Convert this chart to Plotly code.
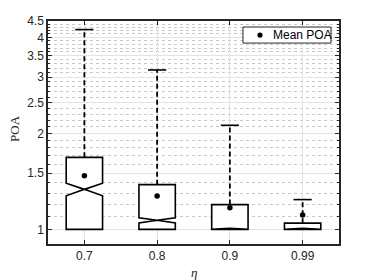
import numpy as np
import plotly.graph_objects as go

# ---- data ----
eta_labels = ["0.7", "0.8", "0.9", "0.99"]
q1 = [1.0, 1.0, 1.0, 1.0]
median = [1.335, 1.068, 1.0, 1.0]
q3 = [1.682, 1.381, 1.196, 1.046]
notch = [0.06, 0.02, 0.0, 0.0]
upper_whisker = [4.23, 3.16, 2.12, 1.24]
mean_poa = [1.473, 1.273, 1.17, 1.11]

y_tick_vals = [1, 1.5, 2, 2.5, 3, 3.5, 4, 4.5]
y_tick_text = ["1", "1.5", "2", "2.5", "3", "3.5", "4", "4.5"]
legend_label = "Mean POA"
x_title = "<i>η</i>"
y_title = "POA"

pos = list(range(len(eta_labels)))
box_w = 0.5
cap_half = box_w / 4

fig = go.Figure()

fig.add_trace(go.Box(
    x=pos, q1=q1, median=median, q3=q3,
    lowerfence=q1, upperfence=q3,
    notched=True, notchspan=notch, notchwidth=0.5,
    width=box_w, whiskerwidth=0,
    fillcolor="white", line=dict(color="black", width=1.6),
    boxpoints=False, showlegend=False, hoverinfo="skip",
))

# dashed whiskers
wx, wy = [], []
for p, a, b in zip(pos, q3, upper_whisker):
    wx += [p, p, None]
    wy += [a, b, None]
fig.add_trace(go.Scatter(x=wx, y=wy, mode="lines",
                         line=dict(color="black", width=1.8, dash="5px,3px"),
                         showlegend=False, hoverinfo="skip"))
# caps
cx, cy = [], []
for p, b in zip(pos, upper_whisker):
    cx += [p - cap_half, p + cap_half, None]
    cy += [b, b, None]
fig.add_trace(go.Scatter(x=cx, y=cy, mode="lines",
                         line=dict(color="black", width=1.6),
                         showlegend=False, hoverinfo="skip"))

# means
fig.add_trace(go.Scatter(x=pos, y=mean_poa, mode="markers", name=legend_label,
                         showlegend=False,
                         marker=dict(color="black", size=5.5, symbol="circle")))

# compact legend box (MATLAB style)
lx0, lx1, ly0, ly1 = 0.670, 0.9725, 0.901, 0.973
ly_mid = (ly0 + ly1) / 2
fig.add_shape(type="rect", xref="paper", yref="paper", x0=lx0, x1=lx1, y0=ly0, y1=ly1,
              fillcolor="white", line=dict(color="#262626", width=1), layer="above")
fig.add_shape(type="circle", xref="paper", yref="paper", xsizemode="pixel", ysizemode="pixel",
              xanchor=lx0 + 0.0585, yanchor=ly_mid, x0=-2.6, x1=2.6, y0=-2.6, y1=2.6,
              fillcolor="black", line=dict(color="black", width=0), layer="above")
fig.add_annotation(xref="paper", yref="paper", x=lx0 + 0.098, y=ly_mid,
                   xanchor="left", yanchor="middle", showarrow=False,
                   text=legend_label, font=dict(size=12, color="black"))

# axis titles
serif = "Liberation Serif, Times New Roman, serif"
fig.add_annotation(xref="paper", yref="paper", x=0.5, y=-0.128,
                   xanchor="center", yanchor="middle", showarrow=False,
                   text=x_title, font=dict(family=serif, size=13, color="#262626"))
fig.add_annotation(xref="paper", yref="paper", x=-0.117, y=0.52,
                   xanchor="center", yanchor="middle", showarrow=False, textangle=-90,
                   text=y_title, font=dict(family=serif, size=13, color="#262626"))

minor_vals = [round(v, 1) for v in np.arange(0.9, 4.5, 0.1)
              if round(v, 1) not in y_tick_vals]

fig.update_layout(
    width=374, height=280,
    margin=dict(l=48, r=35, t=21, b=36),
    paper_bgcolor="white", plot_bgcolor="white",
    font=dict(family="Liberation Sans, Arial, sans-serif", size=12, color="#262626"),
    showlegend=False,
)

fig.update_xaxes(
    range=[-0.5, 3.5], tickmode="array", tickvals=pos, ticktext=eta_labels,
    showgrid=True, gridcolor="#e3e3e3", gridwidth=1.2,
    ticks="inside", ticklen=4, tickcolor="#262626", tickwidth=1,
    showline=True, linecolor="#262626", linewidth=1.5, mirror="allticks",
    zeroline=False, automargin=False,
    tickfont=dict(size=12),
)

fig.update_yaxes(
    type="log", range=[np.log10(0.9), np.log10(4.5)],
    tickmode="array", tickvals=y_tick_vals, ticktext=y_tick_text,
    showgrid=True, gridcolor="#e3e3e3", gridwidth=1.2,
    ticks="inside", ticklen=4, tickcolor="#262626", tickwidth=1,
    showline=True, linecolor="#262626", linewidth=1.5, mirror="allticks",
    zeroline=False, automargin=False,
    minor=dict(tickmode="array", tickvals=minor_vals, ticks="inside", ticklen=2,
               tickcolor="#262626", showgrid=True, gridcolor="#c8c8c8",
               gridwidth=1, griddash="dot"),
    tickfont=dict(size=12),
)

fig.write_html("out.html",
               config={"displayModeBar": False},
               post_script="document.body.style.margin='0px';document.body.style.overflow='hidden';")
